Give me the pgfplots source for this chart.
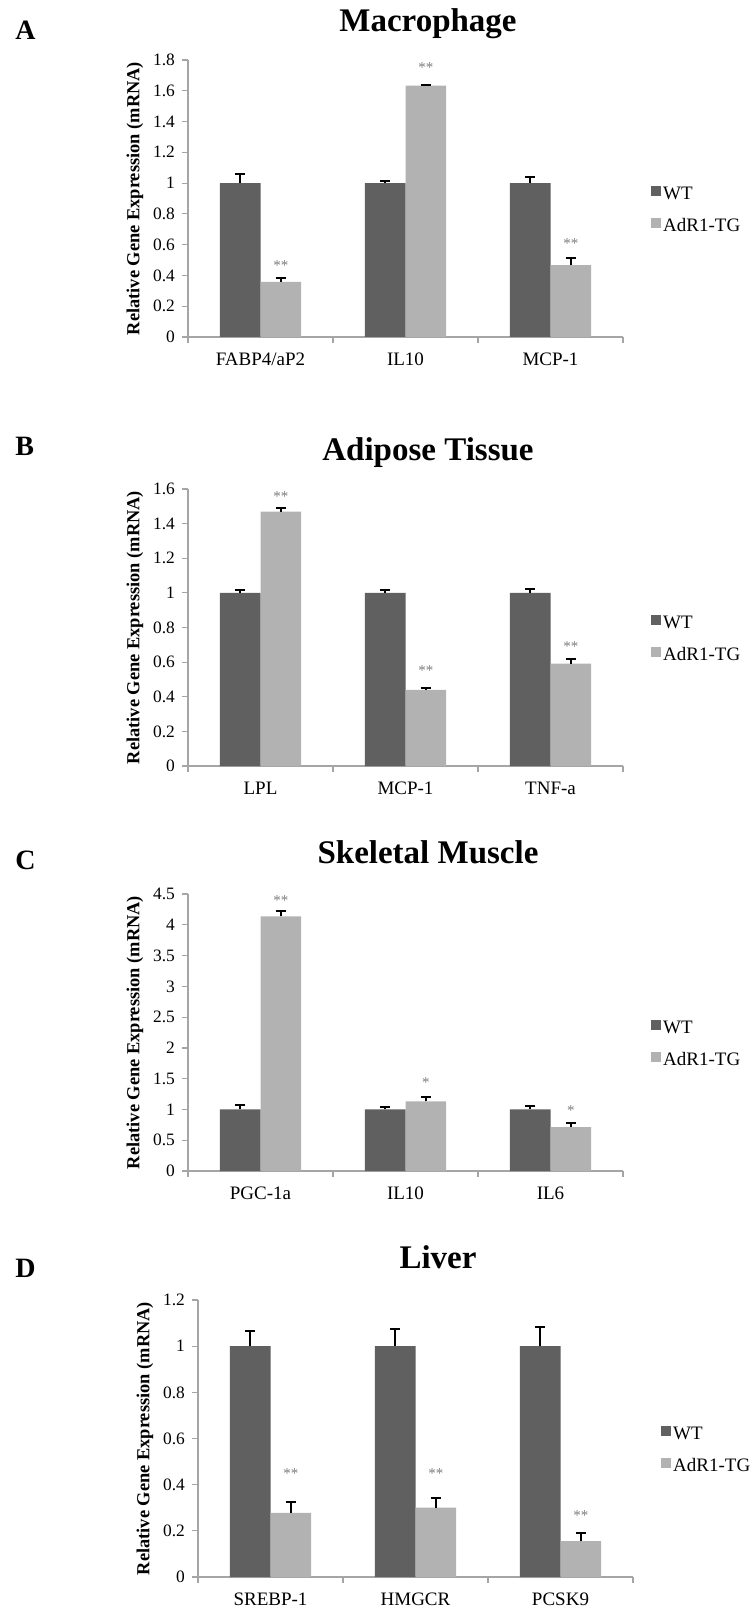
\documentclass[border=0pt]{standalone}
\usepackage{fontspec}
\setmainfont{Liberation Serif}
\usepackage{pgfplots}
\usepackage{pgfplotstable}
\pgfplotsset{compat=1.18}
\definecolor{wtc}{RGB}{96,96,96}
\definecolor{tgc}{RGB}{178,178,178}
\definecolor{axc}{RGB}{165,165,165}
\definecolor{starc}{RGB}{125,125,125}

\pgfplotstableread{
x wt wte tg tge
0 1 0.060 0.358 0.025
1 1 0.012 1.633 0.006
2 1 0.038 0.467 0.045
}\dataA
\pgfplotstableread{
x wt wte tg tge
0 1 0.018 1.469 0.022
1 1 0.018 0.440 0.013
2 1 0.024 0.592 0.027
}\dataB
\pgfplotstableread{
x wt wte tg tge
0 1 0.080 4.137 0.085
1 1 0.035 1.130 0.065
2 1 0.050 0.714 0.065
}\dataC
\pgfplotstableread{
x wt wte tg tge
0 1 0.067 0.278 0.047
1 1 0.076 0.301 0.040
2 1 0.083 0.156 0.036
}\dataD

\pgfplotsset{
  panel/.style={
    scale only axis, width=217.5pt, height=138.5pt,
    axis lines*=left,
    axis line style={draw=axc, line width=0.6pt},
    every tick/.style={draw=axc, line width=0.6pt},
    tick align=outside,
    major tick length=3pt,
    xmin=-0.5, xmax=2.5, ymin=0,
    xtick={-0.5,0.5,1.5,2.5}, xticklabels={},
    extra x ticks={0,1,2},
    extra x tick style={major tick length=0pt, tick label style={font=\fontsize{9.5}{11}\selectfont, yshift=-4.5pt}},
    yticklabel style={font=\fontsize{8.7}{10}\selectfont},
    /pgf/number format/assume math mode=true,
    ylabel={Relative Gene Expression (mRNA)},
    ylabel style={font=\fontsize{9.2}{11}\selectfont\bfseries, at={(axis description cs:-0.122,0.5)}, anchor=center},
    legend style={at={(1.064,0.455)}, anchor=west, draw=none, fill=none, inner sep=0pt,
      font=\fontsize{9.5}{11}\selectfont,
      nodes={inner xsep=1pt, inner ysep=0pt, text height=7pt, text depth=2pt}, row sep=7pt},
    legend cell align=left,
    clip=false,
  },
  errs/.style={error bars/.cd, y dir=plus, y explicit,
    error bar style={black, line width=1pt},
    error mark=-,
    error mark options={rotate=90, black, line width=1pt, mark size=2.6pt}},
  wt/.style={ybar, bar width=0.28, bar shift=0pt, fill=wtc, draw=none,
    legend image code/.code={\fill[wtc] (0pt,-0.5pt) rectangle (5pt,4.5pt);}, errs},
  tg/.style={ybar, bar width=0.28, bar shift=0pt, fill=tgc, draw=none,
    legend image code/.code={\fill[tgc] (0pt,-0.5pt) rectangle (5pt,4.5pt);}, errs},
}
\tikzset{
  star/.style={font=\fontsize{7.5}{8}\selectfont, text=starc, inner sep=0pt},
  ptitle/.style={font=\fontsize{16.5}{18}\selectfont\bfseries, anchor=base},
  pletter/.style={font=\fontsize{14}{16}\selectfont\bfseries, anchor=base west, inner sep=0pt},
}

\begin{document}
\begin{tikzpicture}
\path[use as bounding box] (0,0) rectangle (377pt,-804.5pt);

% Panel A
\node[pletter] at (7.5pt,-20pt) {A};
\node[ptitle] at (214pt,-16pt) {Macrophage};
\begin{axis}[panel, at={(94pt,-168.5pt)}, anchor=south west,
  ymax=1.8, ytick={0,0.2,0.4,0.6,0.8,1,1.2,1.4,1.6,1.8},
  extra x tick labels={FABP4/aP2,IL10,MCP-1}]
\addplot[wt] table[x expr=\thisrow{x}-0.14, y=wt, y error=wte] {\dataA};
\addlegendentry{WT}
\addplot[tg] table[x expr=\thisrow{x}+0.14, y=tg, y error=tge] {\dataA};
\addlegendentry{AdR1-TG}
\node[star] at (axis cs:0.14,0.467) {**};
\node[star] at (axis cs:1.14,1.752) {**};
\node[star] at (axis cs:2.14,0.608) {**};
\end{axis}

% Panel B
\node[pletter] at (7.5pt,-227.5pt) {B};
\node[ptitle] at (214pt,-230pt) {Adipose Tissue};
\begin{axis}[panel, at={(94pt,-383pt)}, anchor=south west,
  ymax=1.6, ytick={0,0.2,0.4,0.6,0.8,1,1.2,1.4,1.6},
  extra x tick labels={LPL,MCP-1,TNF-a}]
\addplot[wt] table[x expr=\thisrow{x}-0.14, y=wt, y error=wte] {\dataB};
\addlegendentry{WT}
\addplot[tg] table[x expr=\thisrow{x}+0.14, y=tg, y error=tge] {\dataB};
\addlegendentry{AdR1-TG}
\node[star] at (axis cs:0.14,1.556) {**};
\node[star] at (axis cs:1.14,0.551) {**};
\node[star] at (axis cs:2.14,0.69) {**};
\end{axis}

% Panel C
\node[pletter] at (7.5pt,-434.5pt) {C};
\node[ptitle] at (214pt,-431.5pt) {Skeletal Muscle};
\begin{axis}[panel, at={(94pt,-585.5pt)}, anchor=south west,
  ymax=4.5, ytick={0,0.5,1,1.5,2,2.5,3,3.5,4,4.5},
  extra x tick labels={PGC-1a,IL10,IL6}]
\addplot[wt] table[x expr=\thisrow{x}-0.14, y=wt, y error=wte] {\dataC};
\addlegendentry{WT}
\addplot[tg] table[x expr=\thisrow{x}+0.14, y=tg, y error=tge] {\dataC};
\addlegendentry{AdR1-TG}
\node[star] at (axis cs:0.14,4.39) {**};
\node[star] at (axis cs:1.14,1.43) {*};
\node[star] at (axis cs:2.14,0.98) {*};
\end{axis}

% Panel D
\node[pletter] at (7.5pt,-638.5pt) {D};
\node[ptitle] at (219pt,-634pt) {Liver};
\begin{axis}[panel, at={(99pt,-788.5pt)}, anchor=south west,
  ymax=1.2, ytick={0,0.2,0.4,0.6,0.8,1,1.2},
  extra x tick labels={SREBP-1,HMGCR,PCSK9}]
\addplot[wt] table[x expr=\thisrow{x}-0.14, y=wt, y error=wte] {\dataD};
\addlegendentry{WT}
\addplot[tg] table[x expr=\thisrow{x}+0.14, y=tg, y error=tge] {\dataD};
\addlegendentry{AdR1-TG}
\node[star] at (axis cs:0.14,0.448) {**};
\node[star] at (axis cs:1.14,0.448) {**};
\node[star] at (axis cs:2.14,0.267) {**};
\end{axis}
\end{tikzpicture}
\end{document}
